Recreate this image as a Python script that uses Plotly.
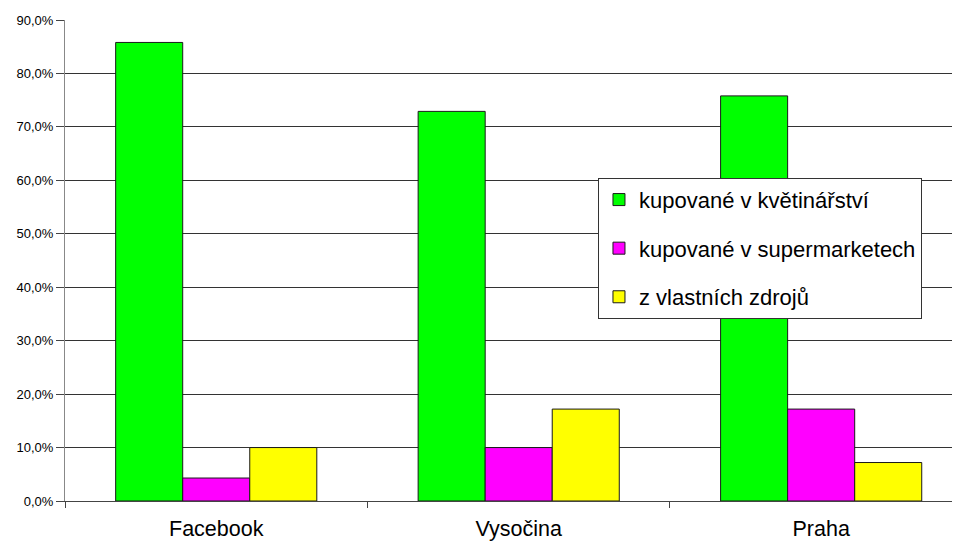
import plotly.graph_objects as go

regions = ["Facebook", "Vysočina", "Praha"]
series_names = ["kupované v květinářství", "kupované v supermarketech", "z vlastních zdrojů"]
florist = [85.8, 72.9, 75.8]
supermarket = [4.3, 10.0, 17.2]
own_sources = [10.0, 17.2, 7.2]
colors = ["#00FF00", "#FF00FF", "#FFFF00"]
y_ticks = [0, 10, 20, 30, 40, 50, 60, 70, 80, 90]
y_labels = [f"{v:.1f}%".replace(".", ",") for v in y_ticks]

fig = go.Figure()
for name, values, color in zip(series_names, [florist, supermarket, own_sources], colors):
    fig.add_trace(
        go.Bar(
            x=regions,
            y=values,
            name=name,
            legendgroup=name,
            marker={"color": color, "line": {"color": "#1a1a1a", "width": 1}},
            hoverinfo="skip",
        )
    )

# the page body has an 8px margin, so the figure is shrunk by that much
fig.update_layout(
    barmode="group",
    bargap=0.335,
    bargroupgap=0,
    width=952,
    height=535,
    paper_bgcolor="white",
    plot_bgcolor="white",
    font=dict(family="Liberation Sans, Arial, sans-serif", color="black", size=13),
    margin=dict(t=12, b=41.5, l=57, r=0),
    legend=dict(
        x=0.5955, y=0.672, xanchor="left", yanchor="top",
        bordercolor="#333333", borderwidth=1, bgcolor="white",
        font=dict(size=22, color="black"),
        tracegroupgap=17,
        itemwidth=30,
    ),
    showlegend=True,
)
fig.update_xaxes(
    range=[-0.5, 2.459],
    tickson="boundaries",
    ticks="outside",
    ticklen=6,
    tickcolor="#444444",
    showline=True,
    linecolor="#444444",
    showgrid=False,
    tickfont=dict(size=21.5),
    ticklabelstandoff=8,
    fixedrange=True,
)
fig.update_yaxes(
    range=[0, 90],
    tickvals=y_ticks,
    ticktext=y_labels,
    ticks="outside",
    ticklen=8,
    tickcolor="#444444",
    showline=True,
    linecolor="#888888",
    showgrid=True,
    gridcolor="#333333",
    gridwidth=1,
    zeroline=False,
    tickfont=dict(size=13),
    fixedrange=True,
)

fig.write_html("out.html")
